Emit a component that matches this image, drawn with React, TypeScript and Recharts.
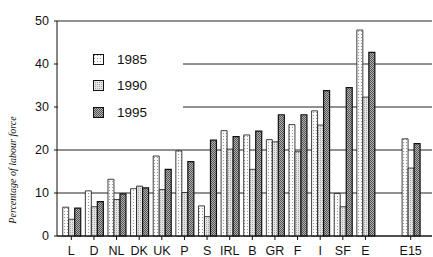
import React from 'react';
import { BarChart, Bar, XAxis, YAxis, CartesianGrid, Label } from 'recharts';

const categories = ['L', 'D', 'NL', 'DK', 'UK', 'P', 'S', 'IRL', 'B', 'GR', 'F', 'I', 'SF', 'E', '', 'E15'];
const v1985 = [6.7, 10.5, 13.2, 11.0, 18.6, 19.8, 7.0, 24.5, 23.5, 22.4, 25.9, 29.1, 9.9, 47.9, null, 22.6];
const v1990 = [3.9, 6.8, 8.5, 11.6, 10.8, 10.1, 4.5, 20.2, 15.5, 21.9, 19.6, 25.8, 6.8, 32.3, null, 15.8];
const v1995 = [6.5, 8.0, 9.8, 11.2, 15.5, 17.3, 22.3, 23.1, 24.4, 28.2, 28.2, 33.8, 34.5, 42.7, null, 21.5];
const yTicks = [0, 10, 20, 30, 40, 50];
const seriesNames = ['1985', '1990', '1995'];

const data = categories.map((c, i) => ({ cat: c, a: v1985[i], b: v1990[i], c: v1995[i] }));

const FONT = '"Liberation Sans", Arial, sans-serif';

const XTick = (props: any) => {
  const { x, payload } = props;
  if (!payload || !payload.value) return null;
  return (
    <g>
      <line x1={x} x2={x} y1={236} y2={240} stroke="#111" strokeWidth={1} />
      <text x={x} y={255} textAnchor="middle" fontFamily={FONT} fontSize={12.5} fill="#111">
        {payload.value}
      </text>
    </g>
  );
};

const YLabel = () => (
  <text
    x={12}
    y={170}
    transform="rotate(-90 12 170)"
    textAnchor="middle"
    dominantBaseline="central"
    fontFamily='"Liberation Serif", "Times New Roman", serif'
    fontStyle="italic"
    fontSize={10}
    fill="#111"
  >
    Percentage of labour force
  </text>
);

const fills = ['url(#p1985)', 'url(#p1990)', 'url(#p1995)'];

const LegendBox = () => (
  <div style={{ position: 'absolute', left: 58, top: 45, background: '#fff', width: 125, height: 82 }}>
    {seriesNames.map((n, i) => (
      <div key={n} style={{ position: 'absolute', left: 35, top: 7 + i * 26.5, height: 14, display: 'flex', alignItems: 'center' }}>
        <svg width={11} height={11} style={{ display: 'block' }}>
          <rect x={0.5} y={0.5} width={10} height={10} fill={fills[i]} stroke="#111" strokeWidth={1} />
        </svg>
        <span style={{ marginLeft: 13, fontFamily: FONT, fontSize: 13.5, color: '#111' }}>{n}</span>
      </div>
    ))}
  </div>
);

export default function App() {
  return (
    <div style={{ position: 'absolute', left: 0, top: 0, width: 433, height: 257, background: '#fff' }}>
      <svg width={0} height={0} style={{ position: 'absolute' }}>
        <defs>
          <pattern id="p1985" width="3" height="3" patternUnits="userSpaceOnUse">
            <rect width="3" height="3" fill="#fafafa" />
            <rect x="1" y="1" width="1" height="1" fill="#999" />
          </pattern>
          <pattern id="p1990" width="2" height="2" patternUnits="userSpaceOnUse">
            <rect width="2" height="2" fill="#e4e4e4" />
            <rect x="0" y="0" width="1" height="1" fill="#a8a8a8" />
          </pattern>
          <pattern id="p1995" width="2" height="2" patternUnits="userSpaceOnUse">
            <rect width="2" height="2" fill="#b0b0b0" />
            <rect x="0" y="0" width="1" height="1" fill="#555" />
            <rect x="1" y="1" width="1" height="1" fill="#555" />
          </pattern>
        </defs>
      </svg>
      <BarChart
        width={433}
        height={257}
        data={data}
        margin={{ top: 21, right: 1, bottom: 0, left: 0 }}
        barGap={0}
        barCategoryGap="12%"
      >
        <CartesianGrid vertical={false} stroke="#222" strokeWidth={1} />
        <XAxis
          dataKey="cat"
          height={21}
          stroke="#111"
          tickLine={false}
          tick={<XTick />}
          interval={0}
          padding={{ left: 3, right: 10 }}
        />
        <YAxis
          width={57}
          domain={[0, 50]}
          ticks={yTicks}
          stroke="#111"
          tickSize={3}
          tickMargin={5}
          tick={{ fontFamily: FONT, fontSize: 12.5, fill: '#111' }}
          interval={0}
        >
          <Label content={<YLabel />} />
        </YAxis>
        <Bar dataKey="a" name="1985" fill="url(#p1985)" stroke="#111" strokeWidth={0.8} isAnimationActive={false} />
        <Bar dataKey="b" name="1990" fill="url(#p1990)" stroke="#111" strokeWidth={0.8} isAnimationActive={false} />
        <Bar dataKey="c" name="1995" fill="url(#p1995)" stroke="#111" strokeWidth={1.2} isAnimationActive={false} />
      </BarChart>
      <LegendBox />
    </div>
  );
}
